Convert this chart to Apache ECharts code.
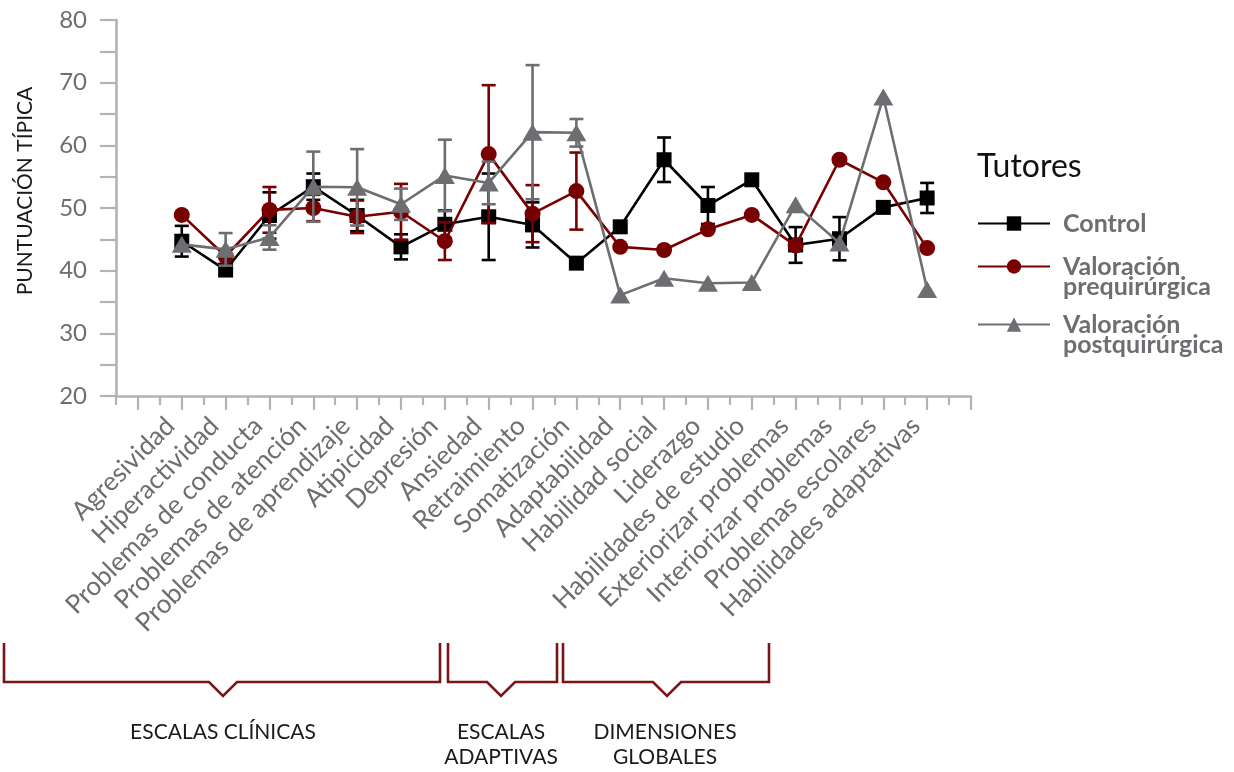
<!DOCTYPE html>
<html>
<head>
<meta charset="utf-8">
<script src="https://cdn.jsdelivr.net/npm/echarts@6/dist/echarts.min.js"></script>
<style>
  html, body { margin: 0; padding: 0; background: #fff; }
  #chart { width: 1234px; height: 772px; }
</style>
</head>
<body>
<div id="chart"></div>
<script>
// Scale names (x axis)
const categories = [
  'Agresividad', 'Hiperactividad', 'Problemas de conducta', 'Problemas de atención',
  'Problemas de aprendizaje', 'Atipicidad', 'Depresión', 'Ansiedad', 'Retraimiento',
  'Somatización', 'Adaptabilidad', 'Habilidad social', 'Liderazgo',
  'Habilidades de estudio', 'Exteriorizar problemas', 'Interiorizar problemas',
  'Problemas escolares', 'Habilidades adaptativas'
];

// Mean T scores and error half-widths (null = no bar)
const control    = [44.7, 40.1, 48.8, 53.4, 48.8, 43.8, 47.4, 48.6, 47.3, 41.2, 47.0, 57.7, 50.4, 54.5, 44.1, 45.1, 50.1, 51.6];
const controlErr = [2.45, null, 3.7, 2.1, 2.5, 2.0, 2.2, 6.9, 3.6, null, null, 3.55, 2.95, null, 2.85, 3.45, null, 2.4];

const pre    = [48.9, 42.3, 49.7, 50.0, 48.6, 49.4, 44.7, 58.6, 49.1, 52.7, 43.8, 43.3, 46.6, 48.9, 44.0, 57.7, 54.1, 43.6];
const preErr = [null, null, 3.65, 2.1, 2.6, 4.45, 3.0, 11.0, 4.55, 6.15, null, null, null, null, null, null, null, null];

const post    = [44.2, 43.4, 45.3, 53.4, 53.3, 50.6, 55.2, 54.0, 62.1, 62.0, 36.1, 38.8, 38.0, 38.1, 50.5, 44.4, 67.7, 37.0];
const postErr = [null, 2.6, 1.95, 5.6, 6.1, 2.5, 5.7, 3.4, 10.7, 2.2, null, null, null, null, null, null, null, null];

const seriesNames = ['Control', 'Valoración prequirúrgica', 'Valoración postquirúrgica'];
const yTicks = [20, 30, 40, 50, 60, 70, 80];

// Groups of scales shown under the axis
const groupLabels = ['ESCALAS CLÍNICAS', 'ESCALAS\nADAPTIVAS', 'DIMENSIONES\nGLOBALES'];

const FONT = 'Lato';
const AXIS_GRAY = '#b3b3b4';
const C_BLACK = '#000000';
const C_RED = '#780000';
const C_GRAY = '#6d6e71';

const toPoints = arr => arr.map((v, i) => [i + 1, v]);
const toBars = (vals, errs) => vals
  .map((v, i) => errs[i] == null ? null : [i + 1, v - errs[i], v + errs[i]])
  .filter(d => d !== null);

function errorBarSeries(name, vals, errs, color, z) {
  return {
    name: name,
    type: 'custom',
    z: z,
    silent: true,
    data: toBars(vals, errs),
    renderItem: function (params, api) {
      const x = api.value(0);
      const lo = api.coord([x, api.value(1)]);
      const hi = api.coord([x, api.value(2)]);
      const w = 7;
      const style = { stroke: color, lineWidth: 2.6 };
      return {
        type: 'group',
        children: [
          { type: 'line', shape: { x1: lo[0], y1: lo[1], x2: hi[0], y2: hi[1] }, style: style },
          { type: 'line', shape: { x1: hi[0] - w, y1: hi[1], x2: hi[0] + w, y2: hi[1] }, style: style },
          { type: 'line', shape: { x1: lo[0] - w, y1: lo[1], x2: lo[0] + w, y2: lo[1] }, style: style }
        ]
      };
    }
  };
}

function lineSeries(name, vals, color, symbol, size, z) {
  return {
    name: name,
    type: 'line',
    z: z,
    data: toPoints(vals),
    symbol: symbol,
    symbolSize: size,
    showAllSymbol: true,
    lineStyle: { color: color, width: 2.6 },
    itemStyle: { color: color, borderWidth: 0 },
    emphasis: { disabled: true },
    animation: false
  };
}

const halfTicks = [];
for (let k = -0.5; k <= 18.5; k += 1) halfTicks.push(k);
const wholeTicks = [];
for (let k = 0; k <= 19; k += 1) wholeTicks.push(k);
// Category labels are split over two stacked axes so neighbours never clash
const oddLabels = categories.map((c, i) => i + 1).filter(v => v % 2 === 1);
const evenLabels = categories.map((c, i) => i + 1).filter(v => v % 2 === 0);

function categoryLabel(values) {
  return {
    customValues: values,
    formatter: v => categories[Math.round(v) - 1] || '',
    showMinLabel: true,
    showMaxLabel: true,
    hideOverlap: false,
    rotate: 45,
    margin: 37,
    verticalAlign: 'bottom',
    lineHeight: 32,
    fontFamily: FONT,
    fontSize: 26,
    color: '#6d6e71'
  };
}

// Bracket shapes under the category labels
function bracket(x1, x2, xm) {
  const top = 643, base = 682, tip = 696, half = 14;
  return {
    type: 'polyline',
    shape: { points: [[x1, top], [x1, base], [xm - half, base], [xm, tip], [xm + half, base], [x2, base], [x2, top]] },
    style: { stroke: '#7a1416', lineWidth: 2.6, fill: null }
  };
}
function groupText(text, x) {
  return {
    type: 'text',
    x: x, y: 720,
    style: {
      text: text, fill: '#1a1a1a', font: '21px ' + FONT,
      align: 'center', verticalAlign: 'top', lineHeight: 25
    }
  };
}

// One legend block per series; two-word names wrap, first line level with the icon
function legendBox(name, top, multi) {
  return {
    data: [name],
    orient: 'vertical',
    left: 977,
    top: top,
    padding: 0,
    itemWidth: 72,
    itemHeight: 18,
    selectedMode: false,
    formatter: n => multi ? '\n' + n.replace(' ', '\n') : n,
    textStyle: {
      fontFamily: FONT, fontSize: 25, fontWeight: 'bold', color: '#6d6e71',
      lineHeight: 20,
      padding: [0, 0, 0, 8]
    }
  };
}

const chart = echarts.init(document.getElementById('chart'), null, { renderer: 'canvas' });
chart.setOption({
  animation: false,
  backgroundColor: '#ffffff',
  title: {
    text: 'Tutores',
    left: 977,
    top: 151,
    padding: 0,
    textStyle: { fontFamily: FONT, fontSize: 32, fontWeight: 'normal', color: '#111' }
  },
  legend: [
    legendBox(seriesNames[0], 211, false),
    legendBox(seriesNames[1], 234, true),
    legendBox(seriesNames[2], 292, true)
  ],
  grid: { left: 116, right: 263, top: 20, bottom: 376, containLabel: false },
  xAxis: [
    {
      type: 'value',
      min: -0.5,
      max: 19,
      axisLine: { show: true, onZero: false, lineStyle: { color: AXIS_GRAY, width: 2.6 } },
      axisTick: { show: true, customValues: halfTicks, length: 9, lineStyle: { color: AXIS_GRAY, width: 2.2 } },
      splitLine: { show: false },
      axisLabel: categoryLabel(oddLabels)
    },
    {
      type: 'value',
      min: -0.5,
      max: 19,
      position: 'bottom',
      axisLine: { show: false, onZero: false },
      axisTick: { show: true, customValues: wholeTicks, length: 14, lineStyle: { color: AXIS_GRAY, width: 2.2 } },
      splitLine: { show: false },
      axisLabel: categoryLabel(evenLabels)
    }
  ],
  yAxis: {
    type: 'value',
    min: 20,
    max: 80,
    interval: 5,
    axisLine: { show: true, onZero: false, lineStyle: { color: AXIS_GRAY, width: 2.6 } },
    axisTick: { show: true, length: 16, lineStyle: { color: AXIS_GRAY, width: 2.2 } },
    splitLine: { show: false },
    axisLabel: {
      customValues: yTicks,
      margin: 29,
      fontFamily: FONT,
      fontSize: 24,
      color: '#6d6e71'
    }
  },
  series: [
    errorBarSeries('err-control', control, controlErr, C_BLACK, 2),
    lineSeries(seriesNames[0], control, C_BLACK, 'rect', 15, 3),
    errorBarSeries('err-pre', pre, preErr, C_RED, 4),
    lineSeries(seriesNames[1], pre, C_RED, 'circle', 16, 5),
    errorBarSeries('err-post', post, postErr, C_GRAY, 6),
    lineSeries(seriesNames[2], post, C_GRAY, 'triangle', [20, 17], 7)
  ],
  graphic: [
    {
      type: 'text',
      x: 25, y: 191,
      rotation: Math.PI / 2,
      style: {
        text: 'PUNTUACIÓN TÍPICA', fill: '#1a1a1a', font: '21px ' + FONT,
        align: 'center', verticalAlign: 'middle'
      }
    },
    bracket(4, 440, 223),
    bracket(448, 557, 501),
    bracket(563, 769, 667),
    groupText(groupLabels[0], 223),
    groupText(groupLabels[1], 501),
    groupText(groupLabels[2], 665)
  ]
});
</script>
</body>
</html>
